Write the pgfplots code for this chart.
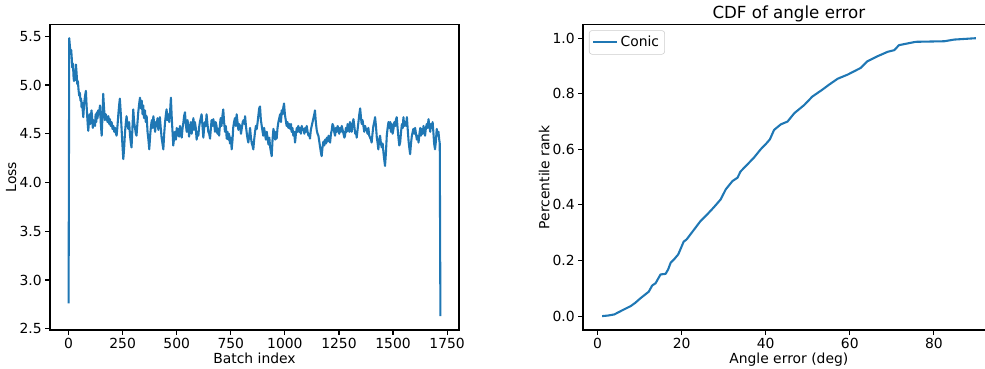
\documentclass[border=0pt]{standalone}
\usepackage{fontspec}
\setmainfont{DejaVu Sans}
\usepackage{pgfplots}
\pgfplotsset{compat=1.18}
\definecolor{c0}{RGB}{31,119,180}
\pgfplotsset{mpl/.style={
  scale only axis, anchor=south west,
  tick align=outside, major tick length=3.5pt,
  every tick/.style={black, line width=0.8pt},
  axis line style={black, line width=0.8pt},
  xtick pos=left, ytick pos=left,
  /pgf/number format/assume math mode=true,
  /pgf/number format/1000 sep={},
  tick label style={font=\fontsize{10}{12}\selectfont},
  xticklabel style={yshift=1pt},
  yticklabel style={xshift=1pt},
  every axis x label/.style={at={(0.5,0)}, anchor=base, yshift=-23.8pt, font=\fontsize{10}{12}\selectfont},
  every axis y label/.style={at={(0,0.5)}, rotate=90, anchor=base, yshift=24.3pt, font=\fontsize{10}{12}\selectfont},
  every axis title/.style={at={(0.5,1)}, anchor=base, yshift=4.4pt, font=\fontsize{12}{14}\selectfont},
  every axis plot/.append style={c0, line width=1.5pt, line join=round},
}}
\begin{document}
\begin{tikzpicture}
\path[use as bounding box] (0,0) rectangle (709.2pt,264.96pt);
\begin{axis}[mpl,
  at={(36pt,27.36pt)}, width=294.48pt, height=220.1pt,
  xmin=-85.95, xmax=1804.95, ymin=2.4875, ymax=5.6225,
  xtick={0,250,...,1750},
  ytick={2.5,3,3.5,4,4.5,5,5.5},
  yticklabel style={/pgf/number format/.cd,fixed,fixed zerofill,precision=1},
  xlabel={Batch index}, ylabel={Loss},
]
\addplot[no marks] coordinates {
(0,2.76)(3,5.48)(6,5.40)(9,5.32)(12,5.36)(14,5.30)(17,5.18)(20,5.22)(23,5.08)(25,5.04)
(28,5.10)(31,5.05)(34,5.21)(37,5.12)(40,5.01)(43,5.04)(46,4.95)(49,4.89)(52,4.92)(55,4.84)
(58,4.86)(60,4.77)(63,4.82)(66,4.72)(68,4.67)(71,4.78)(74,4.85)(77,4.90)(80,4.94)(83,4.80)
(86,4.68)(89,4.58)(91,4.53)(94,4.62)(97,4.70)(100,4.60)(103,4.68)(106,4.74)(109,4.66)(112,4.56)
(115,4.64)(118,4.60)(122,4.58)(125,4.70)(128,4.62)(131,4.72)(134,4.66)(137,4.74)(141,4.70)(145,4.79)
(149,4.60)(153,4.48)(157,4.70)(160,4.91)(164,4.76)(168,4.64)(172,4.70)(176,4.67)(180,4.62)(184,4.68)
(188,4.60)(191,4.65)(195,4.58)(199,4.62)(203,4.55)(207,4.58)(211,4.52)(215,4.56)(219,4.50)(222,4.48)
(226,4.58)(230,4.70)(234,4.80)(237,4.86)(241,4.72)(245,4.55)(249,4.38)(253,4.24)(257,4.36)(261,4.52)
(265,4.62)(268,4.68)(272,4.60)(276,4.55)(280,4.62)(284,4.48)(288,4.40)(291,4.36)(295,4.55)(299,4.75)
(303,4.62)(307,4.56)(311,4.50)(314,4.48)(318,4.60)(322,4.72)(326,4.80)(330,4.87)(334,4.76)(338,4.84)
(342,4.70)(345,4.79)(349,4.66)(353,4.74)(357,4.62)(361,4.68)(365,4.52)(369,4.44)(373,4.34)(377,4.48)
(381,4.58)(385,4.64)(388,4.56)(392,4.68)(396,4.60)(400,4.52)(404,4.62)(407,4.58)(411,4.66)(415,4.54)
(419,4.62)(422,4.67)(426,4.56)(430,4.46)(434,4.40)(438,4.34)(442,4.50)(446,4.62)(450,4.70)(453,4.75)
(457,4.64)(461,4.70)(465,4.62)(469,4.72)(473,4.87)(477,4.66)(481,4.50)(484,4.38)(488,4.46)(492,4.52)
(496,4.44)(500,4.56)(503,4.48)(507,4.55)(511,4.47)(515,4.58)(519,4.52)(523,4.46)(527,4.56)(531,4.62)
(534,4.68)(538,4.72)(542,4.60)(546,4.52)(550,4.64)(554,4.56)(557,4.47)(561,4.55)(565,4.62)(569,4.50)
(573,4.58)(577,4.66)(580,4.54)(584,4.62)(588,4.56)(592,4.44)(596,4.52)(600,4.48)(603,4.56)(607,4.62)
(611,4.66)(615,4.70)(619,4.58)(623,4.46)(626,4.54)(630,4.62)(634,4.58)(638,4.70)(642,4.60)(646,4.52)
(650,4.50)(654,4.45)(658,4.56)(661,4.64)(665,4.58)(669,4.65)(673,4.60)(677,4.52)(680,4.62)(684,4.58)
(688,4.50)(692,4.55)(696,4.48)(700,4.60)(703,4.66)(707,4.58)(711,4.68)(715,4.75)(719,4.62)(723,4.52)
(727,4.58)(731,4.45)(735,4.52)(738,4.44)(742,4.50)(746,4.40)(750,4.46)(754,4.34)(758,4.44)(761,4.56)
(765,4.62)(769,4.66)(773,4.58)(777,4.70)(781,4.62)(785,4.54)(788,4.60)(793,4.58)(797,4.50)(801,4.56)
(805,4.62)(809,4.64)(813,4.60)(816,4.68)(820,4.58)(824,4.50)(828,4.44)(831,4.41)(835,4.48)(839,4.56)
(843,4.46)(847,4.40)(850,4.38)(854,4.34)(858,4.44)(862,4.52)(866,4.58)(870,4.55)(874,4.62)(878,4.70)
(881,4.76)(885,4.78)(889,4.64)(893,4.58)(897,4.52)(900,4.48)(904,4.56)(908,4.50)(912,4.44)(916,4.52)
(920,4.46)(924,4.39)(928,4.46)(932,4.36)(935,4.32)(939,4.27)(943,4.44)(947,4.55)(951,4.50)(955,4.44)
(958,4.52)(962,4.45)(966,4.56)(970,4.62)(974,4.66)(978,4.70)(982,4.62)(985,4.74)(989,4.70)(992,4.76)
(996,4.81)(1000,4.70)(1004,4.64)(1008,4.58)(1012,4.62)(1016,4.56)(1020,4.60)(1024,4.55)(1028,4.60)(1031,4.52)
(1035,4.56)(1039,4.48)(1043,4.52)(1047,4.41)(1051,4.50)(1055,4.56)(1058,4.52)(1062,4.58)(1066,4.52)(1070,4.56)
(1074,4.50)(1078,4.58)(1082,4.54)(1086,4.55)(1090,4.50)(1094,4.56)(1097,4.52)(1101,4.58)(1105,4.52)(1109,4.48)
(1113,4.50)(1116,4.45)(1120,4.54)(1124,4.58)(1128,4.62)(1132,4.66)(1136,4.70)(1139,4.74)(1143,4.62)(1147,4.54)
(1151,4.50)(1155,4.48)(1159,4.42)(1163,4.36)(1167,4.30)(1170,4.27)(1174,4.36)(1178,4.42)(1182,4.38)(1186,4.44)
(1190,4.40)(1194,4.46)(1198,4.42)(1202,4.48)(1205,4.44)(1209,4.41)(1213,4.50)(1217,4.54)(1220,4.60)(1224,4.58)
(1228,4.52)(1232,4.48)(1236,4.56)(1240,4.52)(1244,4.58)(1247,4.55)(1251,4.50)(1255,4.56)(1259,4.52)(1263,4.58)
(1267,4.54)(1271,4.50)(1275,4.46)(1278,4.48)(1282,4.56)(1286,4.52)(1290,4.60)(1294,4.56)(1298,4.52)(1301,4.62)
(1305,4.58)(1309,4.52)(1313,4.60)(1317,4.65)(1321,4.58)(1325,4.50)(1329,4.52)(1332,4.46)(1336,4.54)(1340,4.62)
(1344,4.70)(1348,4.76)(1352,4.66)(1355,4.60)(1359,4.64)(1363,4.58)(1367,4.52)(1371,4.58)(1375,4.54)(1378,4.55)
(1382,4.50)(1386,4.56)(1390,4.48)(1394,4.46)(1398,4.44)(1401,4.41)(1405,4.50)(1409,4.58)(1413,4.62)(1417,4.67)
(1421,4.58)(1425,4.46)(1429,4.40)(1432,4.34)(1436,4.44)(1440,4.48)(1444,4.40)(1448,4.36)(1452,4.40)(1456,4.30)
(1459,4.24)(1463,4.17)(1467,4.30)(1471,4.48)(1475,4.56)(1479,4.62)(1483,4.56)(1487,4.62)(1490,4.52)(1494,4.60)
(1498,4.50)(1502,4.55)(1506,4.62)(1510,4.58)(1513,4.64)(1517,4.67)(1521,4.56)(1525,4.46)(1529,4.38)(1533,4.41)
(1537,4.52)(1541,4.60)(1545,4.56)(1548,4.67)(1552,4.58)(1556,4.62)(1560,4.58)(1564,4.67)(1568,4.54)(1572,4.42)
(1575,4.36)(1579,4.29)(1583,4.40)(1587,4.48)(1591,4.52)(1594,4.55)(1598,4.50)(1602,4.56)(1606,4.50)(1610,4.44)
(1614,4.48)(1618,4.41)(1622,4.50)(1626,4.56)(1629,4.48)(1633,4.55)(1637,4.50)(1641,4.58)(1645,4.52)(1648,4.48)
(1652,4.56)(1656,4.60)(1660,4.56)(1664,4.65)(1668,4.58)(1672,4.52)(1675,4.60)(1679,4.56)(1683,4.62)(1687,4.50)
(1690,4.40)(1694,4.34)(1698,4.42)(1702,4.55)(1706,4.48)(1710,4.52)(1713,4.45)(1716,4.40)(1719,2.63)
};
\end{axis}
\begin{axis}[mpl,
  at={(419.76pt,27.36pt)}, width=296.35pt, height=220.1pt,
  xmin=-3.45, xmax=94.45, ymin=-0.05, ymax=1.05,
  xtick={0,20,40,60,80},
  ytick={0,0.2,0.4,0.6,0.8,1.0},
  yticklabel style={/pgf/number format/.cd,fixed,fixed zerofill,precision=1},
  xlabel={Angle error (deg)}, ylabel={Percentile rank},
  title={CDF of angle error},
  legend style={at={(0,1)}, anchor=north west, xshift=4.3pt, yshift=-4.3pt,
    draw=black!20, rounded corners=2pt, font=\fontsize{10}{12}\selectfont,
    inner sep=2pt},
]
\addplot[no marks] coordinates {
(1.1,0.000)(2.5,0.002)(4.0,0.006)(5.0,0.014)(6.3,0.024)(7.9,0.036)(9.0,0.048)(10.2,0.064)
(11.2,0.076)(12.2,0.088)(13.0,0.110)(13.8,0.118)(15.0,0.150)(16.2,0.152)(16.8,0.168)(17.4,0.192)
(18.2,0.204)(19.2,0.222)(20.5,0.268)(21.2,0.276)(22.1,0.294)(23.3,0.318)(24.5,0.342)(26.1,0.366)
(27.7,0.392)(29.3,0.420)(30.5,0.456)(32.1,0.486)(33.3,0.498)(34.0,0.520)(35.6,0.545)(37.2,0.570)
(38.8,0.600)(40.2,0.622)(41.0,0.636)(42.0,0.670)(43.6,0.690)(45.2,0.700)(46.8,0.730)(49.2,0.760)
(51.1,0.790)(53.5,0.815)(55.1,0.833)(57.1,0.854)(59.5,0.869)(62.6,0.893)(64.2,0.917)(66.6,0.935)
(69.0,0.951)(70.6,0.957)(71.7,0.975)(75.7,0.987)(82.5,0.989)(84.8,0.995)(90.0,1.000)
};
\addlegendentry{Conic}
\end{axis}
\end{tikzpicture}
\end{document}
